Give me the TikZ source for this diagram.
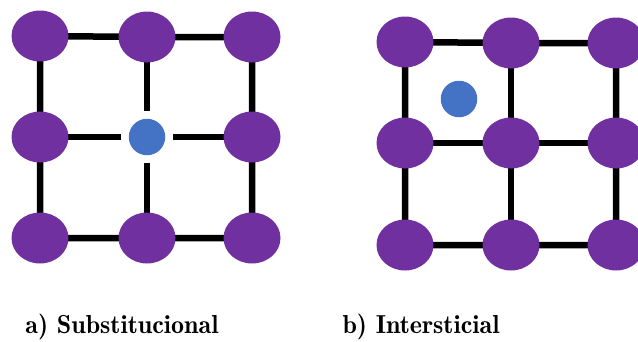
\documentclass[tikz,border=0pt]{standalone}
\usetikzlibrary{shapes.geometric,backgrounds}
\definecolor{atom}{RGB}{112,48,160}
\definecolor{imp}{RGB}{68,114,196}
\begin{document}
\begin{tikzpicture}[x=1pt,y=-1pt,
  atomnode/.style={ellipse,fill=atom,minimum width=57pt,minimum height=51pt,inner sep=0pt},
  impnode/.style={circle,fill=imp,minimum size=36.5pt,inner sep=0pt},
  bond/.style={line width=6.5pt,black},
  gapbond/.style={bond,shorten >=8pt},
  lbl/.style={inner sep=0pt,anchor=base}]
\useasboundingbox (0,0) rectangle (638,341);
% left lattice
\node[atomnode] (a11) at (40,36) {};
\node[atomnode] (a12) at (147,37) {};
\node[atomnode] (a13) at (252,37) {};
\node[atomnode] (a21) at (40,137) {};
\node[impnode]  (ai)  at (147,137) {};
\node[atomnode] (a23) at (252,137) {};
\node[atomnode] (a31) at (40,238) {};
\node[atomnode] (a32) at (147,238) {};
\node[atomnode] (a33) at (252,238) {};
% right lattice
\node[atomnode] (b11) at (405,42) {};
\node[atomnode] (b12) at (511,43) {};
\node[atomnode] (b13) at (616,43) {};
\node[atomnode] (b21) at (405,143) {};
\node[atomnode] (b22) at (511,143) {};
\node[atomnode] (b23) at (616,143) {};
\node[atomnode] (b31) at (405,245) {};
\node[atomnode] (b32) at (511,245) {};
\node[atomnode] (b33) at (616,245) {};
\node[impnode]  (bi)  at (459,99) {};
\begin{scope}[on background layer]
  \draw[bond] (a11.center) -- (a12.center) -- (a13.center) -- (a23.center) -- (a33.center) -- (a32.center) -- (a31.center) -- (a21.center) -- cycle;
  \draw[gapbond] (a21.center) -- (ai);
  \draw[gapbond] (a23.center) -- (ai);
  \draw[gapbond] (a12.center) -- (ai);
  \draw[gapbond] (a32.center) -- (ai);
  \draw[bond] (b11.center) -- (b12.center) -- (b13.center) -- (b23.center) -- (b33.center) -- (b32.center) -- (b31.center) -- (b21.center) -- cycle;
  \draw[bond] (b12.center) -- (b22.center) -- (b32.center);
  \draw[bond] (b21.center) -- (b22.center) -- (b23.center);
\end{scope}
\node[lbl] (la) at (122,333) {\fontsize{26}{26}\fontseries{b}\selectfont a) Substitucional};
\node[lbl] (lb) at (421,333) {\fontsize{26}{26}\fontseries{b}\selectfont b) Intersticial};
\end{tikzpicture}
\end{document}
